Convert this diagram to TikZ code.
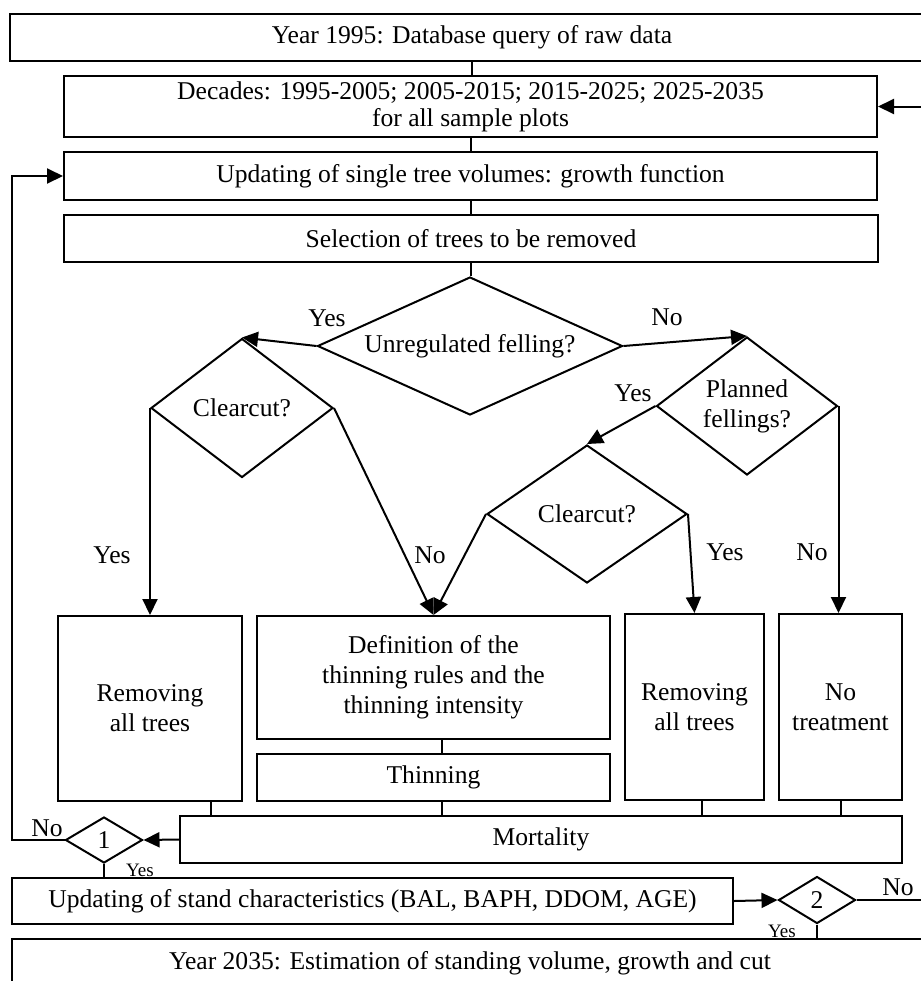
\documentclass[tikz,border=0pt]{standalone}
\usepackage{fontspec}
\setmainfont{Liberation Serif}
\usetikzlibrary{shapes.geometric,arrows.meta,calc}

\begin{document}
\begin{tikzpicture}[x=0.5pt, y=-0.5pt, line width=1pt,
		font=\fontsize{12.8}{15}\selectfont,
		box/.style={draw, rectangle, inner sep=0pt, align=center},
		decision/.style={draw, diamond, inner sep=0pt, align=center},
		tag/.style={inner sep=0pt},
		smalltag/.style={inner sep=0pt, font=\fontsize{9.5}{11}\selectfont},
		arr/.style={-{Triangle[length=8pt,width=7.5pt]}}]
	\useasboundingbox (0,0) rectangle (921,981);
	% boxes of the main sequence
	\node[box, minimum width=462pt, minimum height=23.5pt] (b1) at (472,37.5) {Year 1995: Database query of raw data};
	\node[box, minimum width=406.5pt, minimum height=30.5pt] (b2) at (470.5,106.5) {Decades: 1995-2005; 2005-2015; 2015-2025; 2025-2035\\[-1.5pt]for all sample plots};
	\node[box, minimum width=406.5pt, minimum height=24pt] (b3) at (470.5,176) {Updating of single tree volumes: growth function};
	\node[box, minimum width=407pt, minimum height=23.5pt] (b4) at (471,238.5) {Selection of trees to be removed};
	% decisions
	\node[decision, shape aspect=2.2, minimum width=152.5pt, minimum height=69pt] (unreg) at (470,346) {Unregulated felling?};
	\node[decision, shape aspect=1.3, minimum width=91pt, minimum height=69.5pt] (clear1) at (242,408) {Clearcut?};
	\node[decision, shape aspect=1.3, minimum width=90.5pt, minimum height=69pt] (plan) at (747,406) {Planned\\fellings?};
	\node[decision, shape aspect=1.45, minimum width=100pt, minimum height=69pt] (clear2) at (587,514) {Clearcut?};
	% treatments
	\node[box, minimum width=92pt, minimum height=92.5pt] (rem1) at (150,708.5) {Removing\\all trees};
	\node[box, minimum width=176.5pt, minimum height=61.5pt] (defn) at (433.5,677.5) {Definition of the\\thinning rules and the\\thinning intensity};
	\node[box, minimum width=176.5pt, minimum height=23.5pt] (thin) at (433.5,777.5) {Thinning};
	\node[box, minimum width=69.5pt, minimum height=93pt] (rem2) at (694.5,707) {Removing\\all trees};
	\node[box, minimum width=61.5pt, minimum height=93pt] (notr) at (840.5,707) {No\\treatment};
	\node[box, minimum width=361pt, minimum height=23.5pt] (mort) at (541,839.5) {Mortality};
	% loop checks and end
	\node[decision, shape aspect=1.67, minimum width=38.5pt, minimum height=23pt] (d1) at (104,840) {1};
	\node[box, minimum width=360.5pt, minimum height=23pt] (b5) at (372.5,901) {Updating of stand characteristics (BAL, BAPH, DDOM, AGE)};
	\node[decision, shape aspect=1.67, minimum width=38.5pt, minimum height=23.5pt] (d2) at (817,900) {2};
	\node[box, minimum width=458pt, minimum height=24pt] (b6) at (470,963) {Year 2035: Estimation of standing volume, growth and cut};
	\coordinate (lret) at (12,840);
	\coordinate (rret) at (945,900);
	% connectors
	\foreach \a/\b in {b1/b2, b2/b3, b3/b4, b4/unreg}
		\draw (\a.south) -- (\a.south |- \b.north);
	\draw[arr] (unreg.west) -- (clear1.north);
	\draw[arr] (unreg.east) -- (plan.north);
	\draw[arr] (plan.west) -- (clear2.north);
	\draw[arr] (clear1.west) -- (clear1.west |- rem1.north);
	\draw[arr] (clear1.east) -- (defn.north);
	\draw[arr] (clear2.west) -- (defn.north);
	\draw[arr] (clear2.east) -- (rem2.north);
	\draw[arr] (plan.east) -- (plan.east |- notr.north);
	\draw ($(defn.south)+(8,0)$) -- ($(thin.north)+(8,0)$);
	\foreach \n/\dx in {rem1/61, thin/8, rem2/7.5, notr/0}
		\draw ($(\n.south)+(\dx,0)$) -- ($(\n.south |- mort.north)+(\dx,0)$);
	\draw[arr] (mort.west) -- (d1.east);
	\draw[arr] (d1.west) -- (lret) |- (b3.west);
	\draw (d1.south) -- (d1.south |- b5.north);
	\draw[arr] (b5.east) -- (d2.west);
	\draw[arr] (d2.east) -- (rret) |- (b2.east);
	\draw (d2.south) -- (d2.south |- b6.north);
	% branch labels
	\node[tag] (l1) at (327,318) {Yes};
	\node[tag] (l2) at (667,317) {No};
	\node[tag] (l3) at (633,393) {Yes};
	\node[tag] (l4) at (112,555) {Yes};
	\node[tag] (l5) at (430,555) {No};
	\node[tag] (l6) at (725,552) {Yes};
	\node[tag] (l7) at (812,552) {No};
	\node[tag] (l8) at (47,828) {No};
	\node[smalltag] (l9) at (140,870) {Yes};
	\node[tag] (l10) at (898,887) {No};
	\node[smalltag] (l11) at (782,931) {Yes};
\end{tikzpicture}
\end{document}
